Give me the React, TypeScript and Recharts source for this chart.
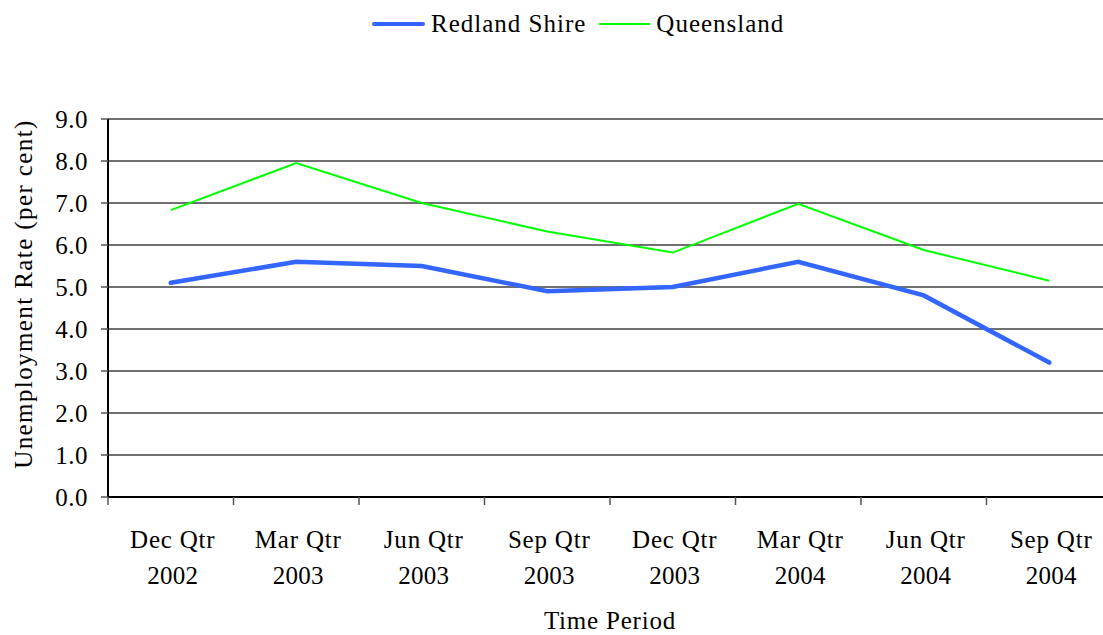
import React from 'react';
import { LineChart, Line, XAxis, YAxis, CartesianGrid, Legend } from 'recharts';

const periods = ['Dec Qtr', 'Mar Qtr', 'Jun Qtr', 'Sep Qtr', 'Dec Qtr', 'Mar Qtr', 'Jun Qtr', 'Sep Qtr'];
const years = ['2002', '2003', '2003', '2003', '2003', '2004', '2004', '2004'];
const redland = [5.1, 5.6, 5.5, 4.9, 5.0, 5.6, 4.8, 3.2];
const queensland = [6.83, 7.95, 7.0, 6.32, 5.82, 6.98, 5.88, 5.15];
const yTicks = [0, 1, 2, 3, 4, 5, 6, 7, 8, 9];

const data = periods.map((p, i) => ({
  period: `${p}|${years[i]}`,
  redland: redland[i],
  queensland: queensland[i],
}));

const FONT = '"Liberation Serif", "Times New Roman", serif';
const BLUE = '#3366ff';
const GREEN = '#00ff00';

const XTick = (props: any) => {
  const { x, y, payload } = props;
  const [q, yr] = String(payload.value).split('|');
  const half = payload && payload.offset ? payload.offset : 62.75;
  return (
    <g>
      <line x1={x - half} x2={x - half} y1={y} y2={y + 8} stroke="#555" strokeWidth={1.5} />
      <text x={x + 2} y={y + 51} textAnchor="middle" fontFamily={FONT} fontSize={25} letterSpacing={0.8} fill="#000">{q}</text>
      <text x={x + 2} y={y + 87} textAnchor="middle" fontFamily={FONT} fontSize={25} letterSpacing={0.3} fill="#000">{yr}</text>
    </g>
  );
};

const LegendContent = () => (
  <div style={{ height: 48, position: 'relative', fontFamily: FONT, fontSize: 25, letterSpacing: 1, color: '#000' }}>
    <div style={{ position: 'absolute', left: 372, top: 10, display: 'flex', alignItems: 'center', whiteSpace: 'nowrap' }}>
      <svg width={53} height={10} style={{ marginRight: 6 }}>
        <line x1={2} x2={51} y1={5} y2={5} stroke={BLUE} strokeWidth={4} strokeLinecap="round" />
      </svg>
      <span>Redland Shire</span>
      <svg width={51} height={10} style={{ marginLeft: 13, marginRight: 6 }}>
        <line x1={0} x2={51} y1={5} y2={5} stroke={GREEN} strokeWidth={2} />
      </svg>
      <span>Queensland</span>
    </div>
  </div>
);

const YTitle = () => (
  <text
    x={32}
    y={294}
    transform="rotate(-90 32 294)"
    textAnchor="middle"
    fontFamily={FONT}
    fontSize={25}
    letterSpacing={1.4}
    fill="#000"
  >
    Unemployment Rate (per cent)
  </text>
);

export default function App() {
  return (
    <div style={{ position: 'absolute', left: 0, top: 0, width: 1103, height: 635, overflow: 'hidden', background: '#fff' }}>
      <LineChart width={1120} height={635} data={data} margin={{ top: 71, right: 8, bottom: 0, left: 0 }}>
        <Legend
          verticalAlign="top"
          align="center"
          content={<LegendContent />}
          wrapperStyle={{ top: 0, left: 0, width: 1103, height: 48 }}
        />
        <CartesianGrid vertical={false} stroke="#404040" strokeWidth={1.5} />
        <XAxis
          dataKey="period"
          scale="band"
          height={138}
          tickSize={0}
          tickMargin={0}
          interval={0}
          tick={<XTick />}
          axisLine={{ stroke: '#000', strokeWidth: 2 }}
          label={{ value: 'Time Period', position: 'insideBottom', offset: 6, fontFamily: FONT, fontSize: 25, fill: '#000', letterSpacing: 0.8 } as any}
        />
        <YAxis
          width={108}
          domain={[0, 9]}
          ticks={yTicks}
          interval={0}
          tickFormatter={(v: number) => v.toFixed(1)}
          tickSize={7}
          tickMargin={13}
          tick={{ fontFamily: FONT, fontSize: 25, fill: '#000', letterSpacing: 0.5 } as any}
          tickLine={{ stroke: '#555', strokeWidth: 1.5 }}
          axisLine={{ stroke: '#000', strokeWidth: 2 }}
          label={{ content: () => <YTitle /> } as any}
        />
        <Line
          type="linear"
          dataKey="queensland"
          name="Queensland"
          stroke={GREEN}
          strokeWidth={2}
          dot={false}
          isAnimationActive={false}
        />
        <Line
          type="linear"
          dataKey="redland"
          name="Redland Shire"
          stroke={BLUE}
          strokeWidth={4.5}
          strokeLinecap="round"
          dot={false}
          isAnimationActive={false}
        />
      </LineChart>
    </div>
  );
}
